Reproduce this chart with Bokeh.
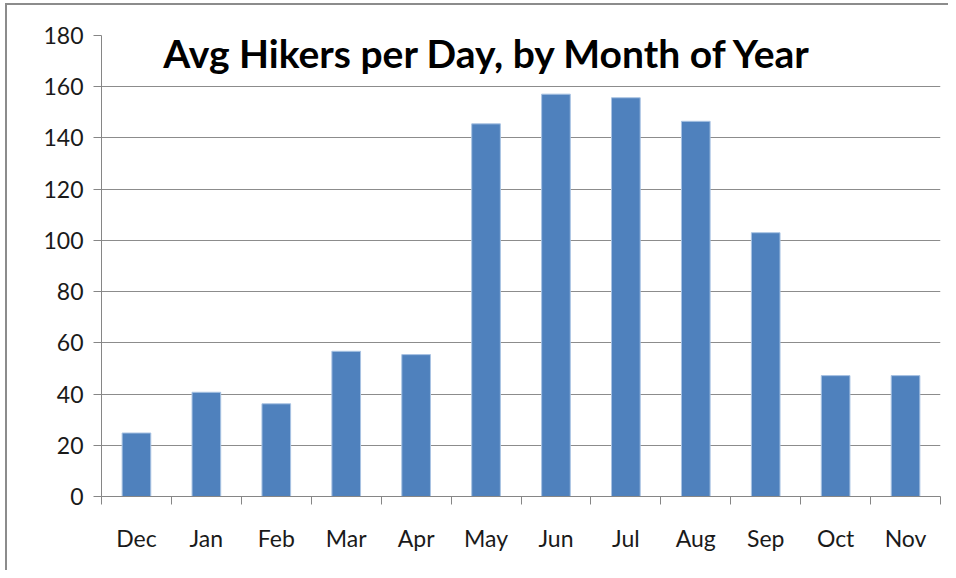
import numpy as np
from bokeh.plotting import figure
from bokeh.models import Range1d, FixedTicker, Label, ColumnDataSource
from bokeh.embed import file_html
from bokeh.resources import INLINE

months = ["Dec", "Jan", "Feb", "Mar", "Apr", "May", "Jun", "Jul", "Aug", "Sep", "Oct", "Nov"]
hikers = [24.8, 40.7, 36.2, 56.7, 55.4, 145.5, 157.1, 155.7, 146.5, 103.0, 47.2, 47.2]
y_ticks = [0, 20, 40, 60, 80, 100, 120, 140, 160, 180]
title_text = "Avg Hikers per Day, by Month of Year"

idx = np.arange(len(months))
src = ColumnDataSource(dict(x=idx + 0.5, top=hikers, month=months))

p = figure(width=941, height=565, output_backend="svg", toolbar_location=None,
           x_range=Range1d(0, len(months)), y_range=Range1d(0, 180),
           min_border_left=94, min_border_right=8, min_border_top=30, min_border_bottom=74,
           frame_width=839, frame_height=461)
p.outline_line_color = None
p.background_fill_color = "white"
p.border_fill_color = "white"
p.styles = {"border-top": "2px solid #8c8c8c", "border-left": "2px solid #8c8c8c",
            "margin-left": "5px", "margin-top": "3px"}

p.vbar(x="x", top="top", width=0.41, bottom=0, source=src,
       fill_color="#4F81BD", line_color="#a9c3e3", line_width=1)

# y axis
p.yaxis.ticker = FixedTicker(ticks=y_ticks)
p.yaxis.axis_line_color = "#868686"
p.yaxis.major_tick_line_color = "#868686"
p.yaxis.major_tick_out = 8
p.yaxis.major_tick_in = 0
p.yaxis.minor_tick_line_color = None
p.yaxis.major_label_text_font = "Lato"
p.yaxis.major_label_text_font_size = "23px"
p.yaxis.major_label_text_color = "#1a1a1a"
p.yaxis.major_label_standoff = 10

# x axis: labels at centers, ticks at boundaries
centers = list(idx + 0.5)
bounds = list(range(len(months) + 1))
p.xaxis.ticker = FixedTicker(ticks=centers, minor_ticks=bounds)
p.xaxis.major_label_overrides = {float(c): m for c, m in zip(centers, months)}
p.xaxis.axis_line_color = "#868686"
p.xaxis.major_tick_line_color = None
p.xaxis.major_tick_out = 0
p.xaxis.major_tick_in = 0
p.xaxis.minor_tick_line_color = "#868686"
p.xaxis.minor_tick_out = 8
p.xaxis.minor_tick_in = 0
p.xaxis.major_label_text_font = "Lato"
p.xaxis.major_label_text_font_size = "23px"
p.xaxis.major_label_text_color = "#1a1a1a"
p.xaxis.major_label_standoff = 19

p.xgrid.grid_line_color = None
p.ygrid.ticker = FixedTicker(ticks=y_ticks)
p.ygrid.grid_line_color = "#8c8c8c"
p.ygrid.grid_line_width = 1

title = Label(x=5.53, y=173.0, text=title_text, text_align="center", text_baseline="alphabetic",
              text_font="Lato", text_font_style="bold", text_font_size="39px",
              text_color="#000000", background_fill_color="white", padding=(18, 4))
p.add_layout(title)

open("out.html", "w").write(file_html(p, INLINE))
